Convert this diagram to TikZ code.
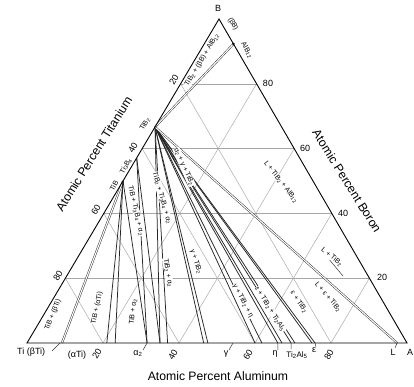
\documentclass[tikz,border=0pt]{standalone}
\usepackage{fontspec}
\setmainfont{Liberation Sans}
\newcommand{\sbs}[1]{\textsubscript{#1}}
\begin{document}
\begin{tikzpicture}[x=1pt,y=-1pt,
  gridline/.style={draw=black!35, line width=0.45pt},
  edgeline/.style={draw=black, line width=0.9pt},
  tie/.style={draw=black!85, line width=0.75pt},
  dbl/.style={draw=black!85, double=white, double distance=1.1pt, line width=0.45pt},
  lab/.style={font=\fontsize{7}{8}\selectfont, inner sep=0.5pt, fill=white},
  tk/.style={font=\fontsize{9}{10}\selectfont, inner sep=0pt},
  ax/.style={font=\fontsize{12.2}{14}\selectfont, inner sep=0pt},
  lead/.style={draw=black!80, line width=0.5pt}]
\useasboundingbox (0,0) rectangle (414,387);
\fill[white] (0,0) rectangle (414,387);
\begin{scope}[shift={(27,343)}, x={(380pt,0pt)}, y={(192pt,324pt)}]
  \coordinate (Ti) at (0,0);
  \coordinate (Al) at (1,0);
  \coordinate (B) at (0,1);
  \coordinate (tib) at (0,0.5);
  \coordinate (ti3b4) at (0,0.5714);
  \coordinate (tib2) at (0,0.6667);
  \coordinate (alb12) at (0.0769,0.9231);
  % baseline points
  \coordinate (bbeta) at (0.087,0);
  \coordinate (q1) at (0.092,0);
  \coordinate (q2) at (0.21,0);
  \coordinate (q3) at (0.232,0);
  \coordinate (q4) at (0.316,0);
  \coordinate (q5) at (0.35,0);
  \coordinate (q6) at (0.37,0);
  \coordinate (q7) at (0.465,0);
  \coordinate (q8) at (0.476,0);
  \coordinate (q9) at (0.60,0);
  \coordinate (q10) at (0.618,0);
  \coordinate (q11) at (0.66,0);
  \coordinate (q12) at (0.671,0);
  \coordinate (q13) at (0.695,0);
  \coordinate (q14) at (0.705,0);
  \coordinate (q15) at (0.75,0);
  \coordinate (q16) at (0.758,0);
  \coordinate (qL) at (0.974,0);
  \coordinate (gt) at (0.542,0);
  % grid
  \foreach \v in {0.2,0.4,0.6,0.8} {
    \draw[gridline] (0,\v) -- (1-\v,\v);
    \draw[gridline] (\v,0) -- (\v,1-\v);
    \draw[gridline] (\v,0) -- (0,\v);
  }
\end{scope}
% tie lines
\draw[dbl] (tib) -- (q1);
\draw[tie] (tib) -- (q2);
\draw[tie] (tib) -- (q3);
\draw[tie] (tib) -- (q4);
\draw[tie] (ti3b4) -- (q4);
\draw[tie] (ti3b4) -- (q5);
\foreach \p in {q5,q6,q7,q8,q9,q10,q11,q12,q13,q14,q15,q16} {
  \draw[tie] (tib2) -- (\p);
}
\draw[dbl] (tib2) -- (qL);
\draw[dbl] (tib2) -- (alb12);
\draw[edgeline] (Ti) -- (Al) -- (B) -- cycle;
\fill (alb12) circle (1.3pt);
% axis titles
\node[ax, rotate=58] (axTi) at (94,154) {Atomic Percent Titanium};
\node[ax, rotate=-58] (axB) at (347,181) {Atomic Percent Boron};
\node[ax] (axAl) at (218,376) {Atomic Percent Aluminum};
% right ticks
\node[tk] (r80) at (268,83) {80};
\node[tk] (r60) at (305,148) {60};
\node[tk] (r40) at (343,213) {40};
\node[tk] (r20) at (382,277) {20};
% left ticks
\node[tk, rotate=60] (l80) at (58,276) {80};
\node[tk, rotate=60] (l60) at (96,210) {60};
\node[tk, rotate=60] (l40) at (133,148) {40};
\node[tk, rotate=60] (l20) at (174,80) {20};
\node[lab, fill=none, rotate=60] (ntib2) at (145,124) {TiB\sbs{2}};
\node[lab, fill=none, rotate=60] (nti3b4) at (126,166) {Ti\sbs{3}B\sbs{4}};
\node[lab, fill=none, rotate=60] (ntib) at (114,186) {TiB};
% bottom ticks
\node[tk, rotate=60] (b20) at (97,354) {20};
\node[tk, rotate=60] (b40) at (173,355) {40};
\node[tk, rotate=60] (b60) at (248,355) {60};
\node[tk, rotate=60] (b80) at (329,355) {80};
\node[tk, anchor=west] (nti) at (17,352) {Ti (βTi)};
\node[tk] (nati) at (77,355) {(αTi)};
\node[tk] (na2) at (138,354) {α\sbs{2}};
\node[tk] (ng) at (226,354) {γ};
\node[tk] (neta) at (275,354) {η};
\node[tk, font=\fontsize{8}{9}\selectfont] (nti2al5) at (297,355) {Ti\sbs{2}Al\sbs{5}};
\node[tk] (neps) at (314,350) {ε};
\node[tk] (nL) at (393,352) {L};
\node[tk] (nA) at (410,352) {A};
\node[tk] (nB) at (218,8) {B};
\draw[lead] (52,351) -- (bbeta);
\draw[lead] (143,350) -- (q4);
\draw[lead] (229,350) -- (gt);
\draw[lead] (278,350) -- (q11);
\draw[lead] (291,349) -- (q13);
\draw[lead] (316,347) -- (q16);
\draw[lead] (395,348) -- (qL);
% region labels
\node[lab, rotate=68] (r1) at (53,315) {TiB + (βTi)};
\node[lab, rotate=78] (r2) at (97,308) {TiB + (αTi)};
\node[lab, rotate=84] (r3) at (133,312) {TiB + α\sbs{2}};
\node[lab, rotate=-77] (r4) at (136,211) {TiB + Ti\sbs{3}B\sbs{4} + α\sbs{2}};
\node[lab, rotate=-74] (r5) at (162,198) {TiB\sbs{2} + Ti\sbs{3}B\sbs{4} + α\sbs{2}};
\node[lab, rotate=-80] (r6) at (168,273) {TiB\sbs{2} + α\sbs{2}};
\node[lab, rotate=-66] (r7) at (184,167) {α\sbs{2} + γ + TiB\sbs{2}};
\node[lab, rotate=-72] (r8) at (196,262) {γ + TiB\sbs{2}};
\node[lab, rotate=-62] (r9) at (243,301) {γ + TiB\sbs{2} + η};
\node[lab, rotate=-58] (r10) at (270,309) {ε + TiB\sbs{2} + Ti\sbs{2}Al\sbs{5}};
\node[lab, rotate=-56] (r11) at (299,302) {ε + TiB\sbs{2}};
\node[lab, rotate=-50] (r12) at (328,297) {L + ε + TiB\sbs{2}};
\node[lab, rotate=-40] (r13) at (332,257) {L + TiB\sbs{2}};
\node[lab, rotate=-52] (r14) at (281,182) {L + TiB\sbs{2} + AlB\sbs{12}};
\node[lab, rotate=59] (r15) at (202,60) {TiB\sbs{2} + (βB) + AlB\sbs{12}};
\node[lab, fill=none, rotate=-60] (r16) at (233,24) {(βB)};
\node[lab, fill=none, rotate=-60] (r17) at (247,50) {AlB\sbs{12}};
\coordinate (c13) at (343,276);
\draw[lead] (r13.south) -- (c13);
\end{tikzpicture}
\end{document}
